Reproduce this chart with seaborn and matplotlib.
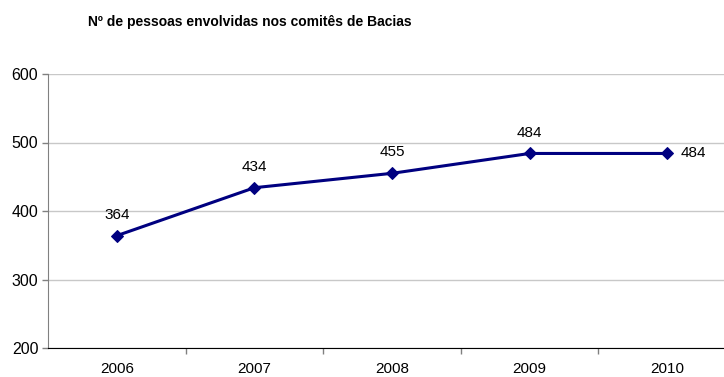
import matplotlib
matplotlib.use("Agg")
import matplotlib.pyplot as plt
import seaborn as sns
import pandas as pd
from matplotlib.ticker import FixedLocator, NullFormatter

# data
anos = ["2006", "2007", "2008", "2009", "2010"]
pessoas = [364, 434, 455, 484, 484]
titulo = "Nº de pessoas envolvidas nos comitês de Bacias"

df = pd.DataFrame({"pos": range(len(anos)), "ano": anos, "pessoas": pessoas})

sns.set_style("white")
plt.rcParams["font.family"] = ["Liberation Sans", "DejaVu Sans"]
plt.rcParams["text.color"] = "black"
plt.rcParams["xtick.labelcolor"] = "black"
plt.rcParams["ytick.labelcolor"] = "black"

fig = plt.figure(figsize=(7.24, 3.77), dpi=100)
ax = fig.add_axes([48 / 724, 29 / 377, 688 / 724, 274 / 377])

sns.lineplot(data=df, x="pos", y="pessoas", ax=ax, color="#000080",
             linewidth=2.2, marker="D", markersize=6, markeredgecolor="#000080")

ax.set_xlim(-0.5, len(anos) - 0.5)
ax.set_ylim(200, 600)
ax.set_yticks([200, 300, 400, 500, 600])
ax.yaxis.grid(True, color="#c8c8c8", linewidth=1)
ax.set_axisbelow(True)

# category labels in the middle, tick marks between categories
ax.set_xticks(df["pos"])
ax.set_xticklabels(anos)
ax.xaxis.set_minor_locator(FixedLocator([i + 0.5 for i in range(len(anos) - 1)]))
ax.xaxis.set_minor_formatter(NullFormatter())
ax.tick_params(axis="x", which="major", length=0, pad=10, labelsize=11)
ax.tick_params(axis="x", which="minor", length=4, width=1, color="#808080", direction="out")
ax.tick_params(axis="y", length=4, width=1, color="#808080", direction="out", labelsize=11.5, pad=3)
ax.xaxis.set_ticks_position("bottom")
ax.yaxis.set_ticks_position("left")

for s in ["top", "right"]:
    ax.spines[s].set_visible(False)
ax.spines["left"].set_color("#808080")
ax.spines["bottom"].set_color("black")
ax.set_xlabel("")
ax.set_ylabel("")

for i, v in enumerate(pessoas):
    if i == len(pessoas) - 1:
        ax.annotate(str(v), (i, v), xytext=(10, 0), textcoords="offset points",
                    ha="left", va="center", fontsize=11)
    else:
        ax.annotate(str(v), (i, v), xytext=(0, 10), textcoords="offset points",
                    ha="center", va="bottom", fontsize=11)

fig.text(250 / 724, 1 - 22 / 377, titulo, ha="center", va="center",
         fontsize=10, fontweight="bold")

fig.savefig("out.png", dpi=100)
